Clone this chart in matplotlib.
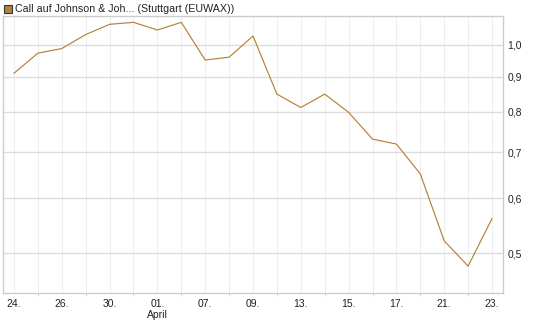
import matplotlib
matplotlib.use("Agg")
import matplotlib.pyplot as plt
from matplotlib.ticker import FixedLocator, FixedFormatter, NullFormatter
from matplotlib.patches import Rectangle

# ---------------------------------------------------------------------------
# Data
# ---------------------------------------------------------------------------
prices = [0.910, 0.973, 0.988, 1.035, 1.071, 1.078, 1.051, 1.078, 0.951, 0.960,
          1.030, 0.849, 0.812, 0.849, 0.799, 0.731, 0.719, 0.651, 0.521, 0.479,
          0.561]
tick_labels = ["24.", "26.", "30.", "01.\nApril", "07.", "09.", "13.", "15.",
               "17.", "21.", "23."]
y_ticks = [0.5, 0.6, 0.7, 0.8, 0.9, 1.0]
title = "Call auf Johnson & Joh... (Stuttgart (EUWAX))"

LINE = "#b5813a"
FRAME = "#cccccc"

plt.rcParams["font.family"] = ["Liberation Sans", "DejaVu Sans"]

W, H = 545, 327
fig = plt.figure(figsize=(W / 100, H / 100), dpi=100)
ax = fig.add_axes([3 / W, 1 - 293 / H, 500 / W, 277 / H])

x = list(range(len(prices)))
ax.plot(x, prices, color=LINE, lw=0.85, zorder=3)

ax.set_yscale("log")
ax.set_ylim(0.438, 1.101)
ax.set_xlim(-0.46, len(prices) - 1 + 0.46)

# y axis on the right
ax.yaxis.tick_right()
ax.yaxis.set_major_locator(FixedLocator(y_ticks))
ax.yaxis.set_major_formatter(FixedFormatter([f"{v:.1f}".replace(".", ",") for v in y_ticks]))
ax.yaxis.set_minor_locator(FixedLocator([]))
ax.yaxis.set_minor_formatter(NullFormatter())
ax.tick_params(axis="y", which="major", length=0, pad=3, labelsize=7.5, colors="#222222")

# x ticks: labels on every second day, small marks in between
ax.set_xticks(x[::2])
ax.set_xticklabels(tick_labels)
ax.set_xticks(x[1::2], minor=True)
ax.tick_params(axis="x", which="major", length=0, pad=4, labelsize=7.5, colors="#222222")
ax.tick_params(axis="x", which="minor", length=2, color=FRAME)

# grid
for xi in x:
    ax.axvline(xi, color="#efefef", lw=0.8, zorder=1)
for yv in y_ticks:
    ax.axhline(yv, color="#dddddd", lw=1.0, zorder=1)

for s in ax.spines.values():
    s.set_color(FRAME)
    s.set_linewidth(1.0)

# legend-like title
fig.patches.append(Rectangle((4 / W, 1 - 13 / H), 8 / W, 8 / H, transform=fig.transFigure,
                             facecolor=LINE, edgecolor="#333333", lw=0.8))
fig.text(15 / W, 1 - 9 / H, title, fontsize=7.7, va="center", ha="left", color="#222222")

fig.savefig("out.png", dpi=100)
